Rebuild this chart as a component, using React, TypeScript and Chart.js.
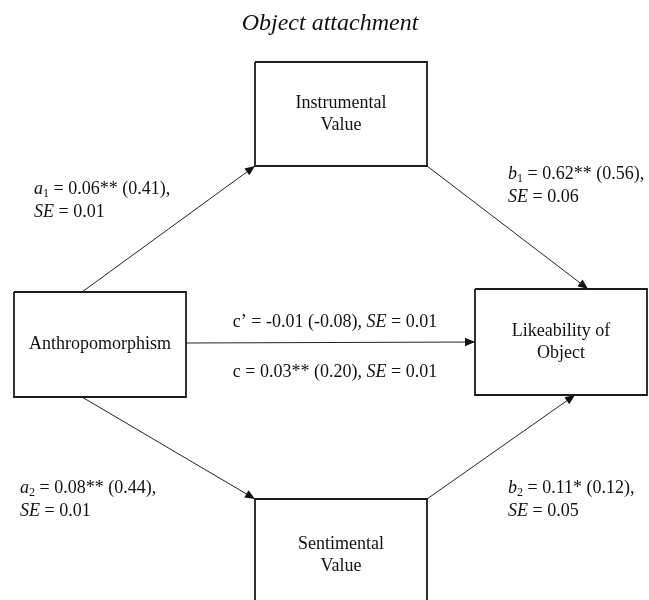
import React, { useEffect, useRef } from "react";
import { Chart, registerables } from "chart.js";

Chart.register(...registerables);

// ---- Diagram data (in diagram units, 0..649 x 0..600, y downward) ----
const titleText = "Object attachment";
const titlePos = [330, 24];

const boxLabels = ["Instrumental\nValue", "Anthropomorphism", "Likeability of\nObject", "Sentimental\nValue"];
const boxLeft = [255, 14, 475, 255];
const boxTop = [62, 292, 289, 499];
const boxRight = [427, 186, 647, 427];
const boxBottom = [166, 397, 395, 612];

const pathNames = ["a1", "b1", "c", "a2", "b2"];
const pathFromX = [82, 427, 186, 82, 427];
const pathFromY = [292, 166, 343, 397, 499];
const pathToX = [255, 588, 475, 255, 575];
const pathToY = [166, 289, 342, 499, 395];

type Seg = { t: string; it?: boolean; sub?: boolean };

const labelLines: Seg[][][] = [
  [
    [{ t: "a", it: true }, { t: "1", sub: true }, { t: " = 0.06** (0.41)," }],
    [{ t: "SE", it: true }, { t: " = 0.01" }],
  ],
  [
    [{ t: "b", it: true }, { t: "1", sub: true }, { t: " = 0.62** (0.56)," }],
    [{ t: "SE", it: true }, { t: " = 0.06" }],
  ],
  [[{ t: "c\u2019 = -0.01 (-0.08), " }, { t: "SE", it: true }, { t: " = 0.01" }]],
  [[{ t: "c = 0.03** (0.20), " }, { t: "SE", it: true }, { t: " = 0.01" }]],
  [
    [{ t: "a", it: true }, { t: "2", sub: true }, { t: " = 0.08** (0.44)," }],
    [{ t: "SE", it: true }, { t: " = 0.01" }],
  ],
  [
    [{ t: "b", it: true }, { t: "2", sub: true }, { t: " = 0.11* (0.12)," }],
    [{ t: "SE", it: true }, { t: " = 0.05" }],
  ],
];
const labelX = [34, 508, 335, 335, 20, 508];
const labelY = [189, 174, 322, 372, 488, 488];
const labelAlign = ["left", "left", "center", "center", "left", "left"];

const FONT = "'Liberation Serif', 'Times New Roman', serif";

function segFont(s: Seg) {
  const size = s.sub ? 12 : 18;
  return `${s.it ? "italic " : ""}${size}px ${FONT}`;
}

function drawRich(ctx: CanvasRenderingContext2D, segs: Seg[], x: number, y: number, align: string) {
  let w = 0;
  for (const s of segs) {
    ctx.font = segFont(s);
    w += ctx.measureText(s.t).width;
  }
  let cx = align === "center" ? x - w / 2 : x;
  ctx.textAlign = "left";
  ctx.textBaseline = "middle";
  for (const s of segs) {
    ctx.font = segFont(s);
    ctx.fillText(s.t, cx, s.sub ? y + 5 : y);
    cx += ctx.measureText(s.t).width;
  }
}

export default function App() {
  const ref = useRef<HTMLCanvasElement | null>(null);

  useEffect(() => {
    if (!ref.current) return;

    const boxDatasets = boxLabels.map((name, i) => ({
      label: name,
      data: [
        { x: boxLeft[i], y: boxTop[i] },
        { x: boxRight[i], y: boxTop[i] },
        { x: boxRight[i], y: boxBottom[i] },
        { x: boxLeft[i], y: boxBottom[i] },
        { x: boxLeft[i], y: boxTop[i] },
      ],
      showLine: true,
      borderColor: "#1c1c1c",
      borderWidth: 1.8,
      pointRadius: 0,
      tension: 0,
      fill: false,
      borderJoinStyle: "miter" as const,
    }));

    const pathDatasets = pathNames.map((name, i) => ({
      label: name,
      data: [
        { x: pathFromX[i], y: pathFromY[i] },
        { x: pathToX[i], y: pathToY[i] },
      ],
      showLine: true,
      borderColor: "#222",
      borderWidth: 1,
      pointRadius: 0,
      tension: 0,
      fill: false,
      isArrow: true,
    }));

    const diagramPlugin = {
      id: "diagram",
      afterDatasetsDraw(chart: any) {
        const ctx: CanvasRenderingContext2D = chart.ctx;
        const xs = chart.scales.x;
        const ys = chart.scales.y;
        ctx.save();
        // arrowheads
        chart.data.datasets.forEach((ds: any, di: number) => {
          if (!ds.isArrow) return;
          const pts = chart.getDatasetMeta(di).data;
          const p0 = pts[0];
          const p1 = pts[pts.length - 1];
          const ang = Math.atan2(p1.y - p0.y, p1.x - p0.x);
          const len = 10;
          const hw = 4.2;
          const bx = p1.x - Math.cos(ang) * len;
          const by = p1.y - Math.sin(ang) * len;
          ctx.beginPath();
          ctx.moveTo(p1.x, p1.y);
          ctx.lineTo(bx + Math.sin(ang) * hw, by - Math.cos(ang) * hw);
          ctx.lineTo(bx - Math.sin(ang) * hw, by + Math.cos(ang) * hw);
          ctx.closePath();
          ctx.fillStyle = "#111";
          ctx.fill();
        });
        ctx.fillStyle = "#111";
        // title
        ctx.font = `italic 24px ${FONT}`;
        ctx.textAlign = "center";
        ctx.textBaseline = "middle";
        ctx.fillText(titleText, xs.getPixelForValue(titlePos[0]), ys.getPixelForValue(titlePos[1]));
        // box labels
        boxLabels.forEach((name, i) => {
          const lines = name.split("\n");
          const cx = xs.getPixelForValue((boxLeft[i] + boxRight[i]) / 2);
          const cy = ys.getPixelForValue((boxTop[i] + boxBottom[i]) / 2);
          const lh = 22;
          ctx.font = `18px ${FONT}`;
          ctx.textAlign = "center";
          ctx.textBaseline = "middle";
          lines.forEach((ln, k) => {
            ctx.fillText(ln, cx, cy + (k - (lines.length - 1) / 2) * lh);
          });
        });
        // path labels
        labelLines.forEach((lines, i) => {
          const x = xs.getPixelForValue(labelX[i]);
          const y0 = ys.getPixelForValue(labelY[i]);
          lines.forEach((segs, k) => {
            drawRich(ctx, segs, x, y0 + k * 23, labelAlign[i]);
          });
        });
        ctx.restore();
      },
    };

    const chart = new Chart(ref.current, {
      type: "scatter",
      data: { datasets: [...boxDatasets, ...pathDatasets] as any },
      options: {
        animation: false,
        responsive: true,
        maintainAspectRatio: false,
        layout: { padding: 0 },
        plugins: { legend: { display: false }, tooltip: { enabled: false }, title: { display: false } },
        events: [],
        scales: {
          x: { type: "linear", min: 0, max: 649, display: false },
          y: { type: "linear", min: 0, max: 600, reverse: true, display: false },
        },
      },
      plugins: [diagramPlugin],
    });
    return () => chart.destroy();
  }, []);

  return (
    <div style={{ position: "absolute", left: 0, top: 0, width: 649, height: 600, background: "#fff" }}>
      <canvas ref={ref} />
    </div>
  );
}
